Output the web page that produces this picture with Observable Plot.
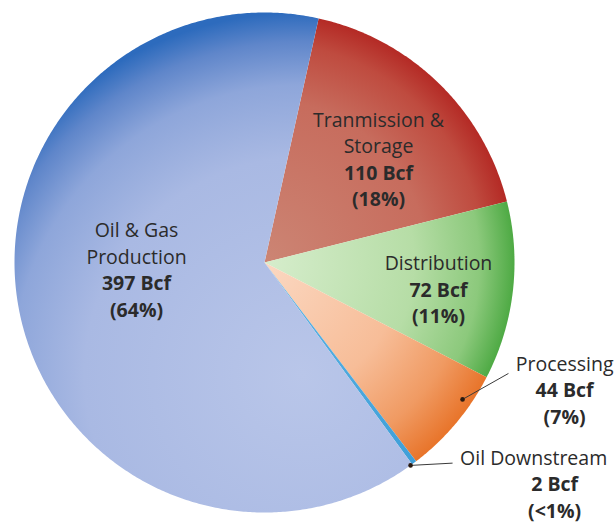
<!DOCTYPE html>
<html><head><meta charset="utf-8">
<script src="https://cdn.jsdelivr.net/npm/d3@7"></script>
<script src="https://cdn.jsdelivr.net/npm/@observablehq/plot@0.6"></script>
<style>html,body{margin:0;padding:0;background:#fff;} #chart svg{display:block;}</style>
</head><body><div id="chart"></div>
<script>
// ---------- data ----------
const categories = ["Tranmission & Storage", "Distribution", "Processing", "Oil Downstream", "Oil & Gas Production"];
const nameLines = [["Tranmission &", "Storage"], ["Distribution"], ["Processing"], ["Oil Downstream"], ["Oil & Gas", "Production"]];
const volumes = [110, 72, 44, 2, 397];
const valueLabels = ["110 Bcf", "72 Bcf", "44 Bcf", "2 Bcf", "397 Bcf"];
const shareLabels = ["(18%)", "(11%)", "(7%)", "(<1%)", "(64%)"];

// ---------- layout & style ----------
const W = 615, H = 523, CX = 264, CY = 262, R = 250;
const START_DEG = 12.5;
const LINE_H = 26.5; // px
const FONT = "'Open Sans', 'Noto Sans', sans-serif";
const FONT_SIZE = 19.5;
const TEXT_COLOR = "#2b2b2b";
const gradients = [
  {id: "gRed", cx: 0, cy: 0, r: 1, stops: [[0, "#cc8574"], [0.65, "#c76c5d"], [0.88, "#bf4b3f"], [1, "#b42a25"]]},
  {id: "gGreen", cx: 0, cy: 0, r: 1, stops: [[0, "#d6edcc"], [0.6, "#b6dda6"], [0.86, "#8cc97c"], [1, "#4eaa44"]]},
  {id: "gOrange", cx: 0, cy: 0, r: 1, stops: [[0, "#fbd8c2"], [0.55, "#f7bd98"], [0.82, "#f09a62"], [1, "#e8742a"]]},
  {id: "gCyan", cx: 0, cy: 0, r: 1, stops: [[0, "#5fb4e4"], [1, "#3f9fd8"]]},
  {id: "gBlue", cx: 0.15, cy: -0.45, r: 1.45, stops: [[0, "#b9c6e9"], [0.6, "#a9b9e3"], [0.8, "#8ea6da"], [0.92, "#5f86ca"], [1, "#2d6bbd"]]}
];
// label placement relative to each slice's mid-angle (degrees) and radius (fraction of R)
const labelLayout = [
  {dA: 4.0, r: 0.612, nameDx: 0},
  {dA: 2.6, r: 0.705, nameDx: 0},
  {dA: -16.8, r: 1.306, nameDx: 0, leader: {a0: -5.35, r0: 0.963, a1: -15.55, r1: 1.072}},
  {dA: -15.8, r: 1.462, nameDx: -21, leader: {a0: 1.0, r0: 1.0, a1: -6.4, r1: 1.1}},
  {dA: 8.1, r: 0.513, nameDx: 0}
];

// ---------- geometry from data ----------
const rad = d => d * Math.PI / 180;
const pie = d3.pie().sort(null).startAngle(rad(START_DEG)).endAngle(rad(START_DEG) + 2 * Math.PI);
const arcs = pie(volumes);
const polar = (a, r) => ({x: Math.sin(a) * r, y: Math.cos(a) * r});

const slicePts = [];
arcs.forEach((arc, i) => {
  const fill = `url(#${gradients[i].id})`;
  slicePts.push({key: categories[i], fill, ...polar(arc.startAngle, 0)});
  const n = Math.max(2, Math.ceil((arc.endAngle - arc.startAngle) / rad(0.5)));
  for (let k = 0; k <= n; k++) {
    const a = arc.startAngle + (arc.endAngle - arc.startAngle) * k / n;
    slicePts.push({key: categories[i], fill, ...polar(a, 1)});
  }
});

const textRows = [];
const leaders = [];
arcs.forEach((arc, i) => {
  const mid = (arc.startAngle + arc.endAngle) / 2;
  const L = labelLayout[i];
  const c = polar(mid + rad(L.dA), L.r);
  const lines = [...nameLines[i].map(t => ({t, bold: false})), {t: valueLabels[i], bold: true}, {t: shareLabels[i], bold: true}];
  const n = lines.length;
  lines.forEach((ln, j) => {
    textRows.push({
      text: ln.t, bold: ln.bold,
      x: c.x + (j === 0 ? L.nameDx / R : 0),
      y: c.y - (j - (n - 1) / 2) * LINE_H / R
    });
  });
  if (L.leader) {
    const p0 = polar(mid + rad(L.leader.a0), L.leader.r0);
    const p1 = polar(mid + rad(L.leader.a1), L.leader.r1);
    leaders.push({x1: p0.x, y1: p0.y, x2: p1.x, y2: p1.y});
  }
});

const plot = Plot.plot({
  width: W, height: H, margin: 0,
  x: {domain: [-CX / R, (W - CX) / R], axis: null},
  y: {domain: [-(H - CY) / R, CY / R], axis: null},
  color: {type: "identity"},
  style: {background: "#fff", fontFamily: FONT},
  marks: [
    Plot.line(slicePts, {x: "x", y: "y", z: "key", fill: "fill", stroke: "none", curve: "linear-closed"}),
    Plot.link(leaders, {x1: "x1", y1: "y1", x2: "x2", y2: "y2", stroke: "#3a3a3a", strokeWidth: 1}),
    Plot.dot(leaders, {x: "x1", y: "y1", r: 2.3, fill: "#2a1a10", stroke: "none"}),
    Plot.text(textRows.filter(d => !d.bold), {x: "x", y: "y", text: "text", fill: TEXT_COLOR, fontSize: FONT_SIZE, fontWeight: "normal"}),
    Plot.text(textRows.filter(d => d.bold), {x: "x", y: "y", text: "text", fill: TEXT_COLOR, fontSize: FONT_SIZE, fontWeight: "bold"})
  ]
});

// gradient definitions positioned through the plot's scales
const sx = plot.scale("x"), sy = plot.scale("y");
const ns = "http://www.w3.org/2000/svg";
const defs = document.createElementNS(ns, "defs");
gradients.forEach(g => {
  const rg = document.createElementNS(ns, "radialGradient");
  rg.setAttribute("id", g.id);
  rg.setAttribute("gradientUnits", "userSpaceOnUse");
  rg.setAttribute("cx", sx.apply(g.cx));
  rg.setAttribute("cy", sy.apply(g.cy));
  rg.setAttribute("r", Math.abs(sx.apply(g.r) - sx.apply(0)));
  g.stops.forEach(([o, c]) => {
    const s = document.createElementNS(ns, "stop");
    s.setAttribute("offset", o);
    s.setAttribute("stop-color", c);
    rg.appendChild(s);
  });
  defs.appendChild(rg);
});
plot.insertBefore(defs, plot.firstChild);
document.getElementById("chart").appendChild(plot);
</script>
</body></html>
